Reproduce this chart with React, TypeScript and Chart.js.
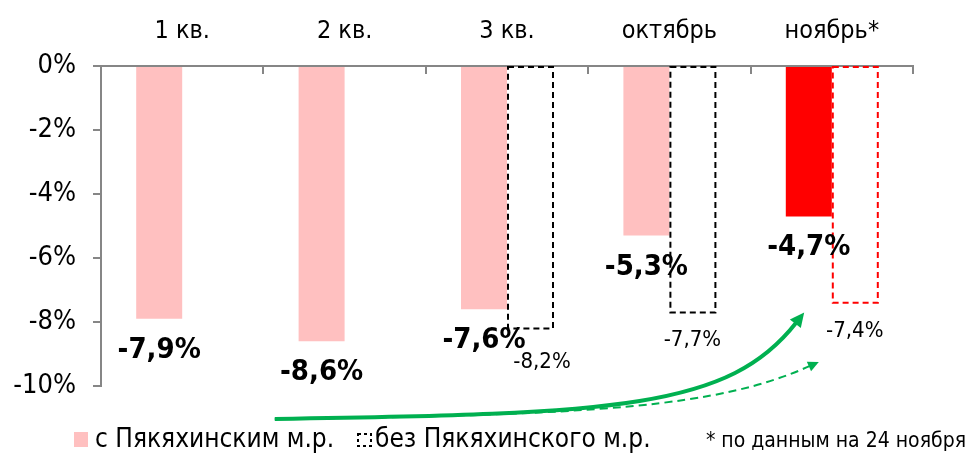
import React, { useEffect, useRef } from "react";
import { Chart, registerables } from "chart.js";

Chart.register(...registerables);

const categories = ["1 кв.", "2 кв.", "3 кв.", "октябрь", "ноябрь*"];
const withField: (number | null)[] = [-7.9, -8.6, -7.6, -5.3, -4.7];
const withoutField: (number | null)[] = [null, null, -8.2, -7.7, -7.4];
const yMin = -10;
const yMax = 0;
const yStep = 2;
const legendLabels = ["с Пякяхинским м.р.", "без Пякяхинского м.р."];
const footnote = "* по данным на 24 ноября";

const FONT = "'DejaVu Sans Condensed', 'DejaVu Sans', sans-serif";
const PINK = "rgb(255,192,192)";
const RED = "rgb(255,0,0)";
const AXIS = "rgb(134,134,134)";
const GREEN = "rgb(0,176,80)";

const fillColors = withField.map((_, i) => (i === withField.length - 1 ? RED : PINK));
const outlineColors = withoutField.map((_, i) => (i === withoutField.length - 1 ? RED : "#000"));

const fmt = (v: number) => v.toFixed(1).replace(".", ",") + "%";

function arrow(ctx: CanvasRenderingContext2D, pts: number[][], width: number, dash: number[], head: number) {
  const [p0, c1, c2, p1] = pts;
  const ang = Math.atan2(p1[1] - c2[1], p1[0] - c2[0]);
  const back = head * 0.8;
  const ex = p1[0] - Math.cos(ang) * back;
  const ey = p1[1] - Math.sin(ang) * back;
  ctx.save();
  ctx.strokeStyle = GREEN;
  ctx.fillStyle = GREEN;
  ctx.lineWidth = width;
  ctx.lineCap = "butt";
  ctx.setLineDash(dash);
  ctx.beginPath();
  ctx.moveTo(p0[0], p0[1]);
  ctx.bezierCurveTo(c1[0], c1[1], c2[0], c2[1], ex, ey);
  ctx.stroke();
  ctx.setLineDash([]);
  ctx.beginPath();
  ctx.moveTo(p1[0], p1[1]);
  ctx.lineTo(p1[0] - Math.cos(ang - 0.45) * head, p1[1] - Math.sin(ang - 0.45) * head);
  ctx.lineTo(p1[0] - Math.cos(ang + 0.45) * head, p1[1] - Math.sin(ang + 0.45) * head);
  ctx.closePath();
  ctx.fill();
  ctx.restore();
}

const overlay = {
  id: "overlay",
  afterDatasetsDraw(chart: any) {
    const ctx: CanvasRenderingContext2D = chart.ctx;
    const xs = chart.scales.x;
    const ca = chart.chartArea;
    const n = categories.length;
    const cw = (ca.right - ca.left) / n;

    ctx.save();
    // category ticks pointing into the plot
    ctx.strokeStyle = AXIS;
    ctx.lineWidth = 2;
    for (let i = 0; i <= n; i++) {
      const x = Math.round(xs.getPixelForValue(0) - cw / 2 + i * cw);
      ctx.beginPath();
      ctx.moveTo(x, ca.top);
      ctx.lineTo(x, ca.top + 8);
      ctx.stroke();
    }

    // dashed outline bars
    const meta1 = chart.getDatasetMeta(1);
    meta1.data.forEach((el: any, i: number) => {
      const v = withoutField[i];
      if (v == null) return;
      const p = el.getProps(["x", "y", "base", "width"], true);
      ctx.strokeStyle = outlineColors[i];
      ctx.lineWidth = 2;
      ctx.setLineDash([6, 4]);
      ctx.strokeRect(p.x - p.width / 2 + 1, p.base, p.width - 1, p.y - p.base);
    });
    ctx.setLineDash([]);

    // labels
    ctx.fillStyle = "#000";
    ctx.textAlign = "center";
    ctx.textBaseline = "alphabetic";
    const meta0 = chart.getDatasetMeta(0);
    ctx.font = `bold 29px ${FONT}`;
    meta0.data.forEach((el: any, i: number) => {
      const v = withField[i];
      if (v == null) return;
      ctx.fillText(fmt(v), el.x, el.y + 39);
    });
    ctx.font = `22px ${FONT}`;
    meta1.data.forEach((el: any, i: number) => {
      const v = withoutField[i];
      if (v == null) return;
      const crowded = i === 2;
      ctx.fillText(fmt(v), el.x + (crowded ? 12 : 0), el.y + (crowded ? 40 : 34));
    });
    ctx.restore();
  },
  afterDraw(chart: any) {
    const ctx: CanvasRenderingContext2D = chart.ctx;
    const xs = chart.scales.x;
    const ys = chart.scales.y;
    const ca = chart.chartArea;
    const cw = (ca.right - ca.left) / categories.length;

    // green trend arrows
    const sx = xs.getPixelForValue(0) + cw * 0.57;
    const sy = ca.bottom + 33;
    const endX = xs.getPixelForValue(4);
    arrow(ctx, [[sx, sy], [sx + cw * 2.12, sy - 5], [endX - cw * 0.63, sy - 11], [endX - cw * 0.17, ys.getPixelForValue(-7.7)]], 4, [], 16);
    arrow(ctx, [[sx, sy], [sx + cw * 2.0, sy - 4], [endX - cw * 0.7, sy - 12], [endX - cw * 0.08, ys.getPixelForValue(-9.25)]], 2, [8, 5], 12);

    // legend
    const base = chart.height - 6;
    ctx.save();
    ctx.fillStyle = PINK;
    ctx.fillRect(74, base - 15, 14, 15);
    ctx.fillStyle = "#000";
    ctx.font = `26px ${FONT}`;
    ctx.textAlign = "left";
    ctx.textBaseline = "alphabetic";
    ctx.fillText(legendLabels[0], 95, base);
    ctx.strokeStyle = "#000";
    ctx.lineWidth = 2;
    ctx.setLineDash([3, 3]);
    ctx.strokeRect(358, base - 13, 13, 12);
    ctx.setLineDash([]);
    ctx.fillText(legendLabels[1], 375, base);
    ctx.font = `21px ${FONT}`;
    ctx.textAlign = "right";
    ctx.fillText(footnote, 966, base);
    ctx.restore();
  },
};

export default function App() {
  const ref = useRef<HTMLCanvasElement>(null);
  useEffect(() => {
    if (!ref.current) return;
    const chart = new Chart(ref.current, {
      type: "bar",
      data: {
        labels: categories,
        datasets: [
          {
            label: legendLabels[0],
            data: withField,
            backgroundColor: fillColors,
            borderWidth: 0,
            categoryPercentage: 0.5665,
            barPercentage: 1,
          },
          {
            label: legendLabels[1],
            data: withoutField,
            backgroundColor: "rgba(0,0,0,0)",
            borderWidth: 0,
            categoryPercentage: 0.5665,
            barPercentage: 1,
          },
        ],
      },
      options: {
        responsive: false,
        animation: false,
        layout: { padding: { left: 0, right: 56, top: 0, bottom: 67 } },
        plugins: { legend: { display: false }, tooltip: { enabled: false } },
        scales: {
          x: {
            position: "top",
            grid: { drawOnChartArea: false, drawTicks: false, display: true },
            border: { color: AXIS, width: 2 },
            ticks: { color: "#000", font: { family: FONT, size: 25 }, padding: 20 },
            afterFit: (s: any) => {
              s.height = 66;
            },
          },
          y: {
            min: yMin,
            max: yMax,
            grid: { drawOnChartArea: false, tickLength: 8, color: AXIS, lineWidth: 2 },
            border: { color: AXIS, width: 2 },
            ticks: {
              stepSize: yStep,
              color: "#000",
              font: { family: FONT, size: 27 },
              padding: 17,
              callback: (v: any) => `${v}%`,
            },
            afterFit: (s: any) => {
              s.width = 101;
            },
          },
        },
      },
      plugins: [overlay],
    } as any);
    return () => chart.destroy();
  }, []);
  return (
    <div style={{ position: "fixed", left: 0, top: 0, width: 969, height: 453, background: "#fff" }}>
      <canvas ref={ref} width={969} height={453} />
    </div>
  );
}
